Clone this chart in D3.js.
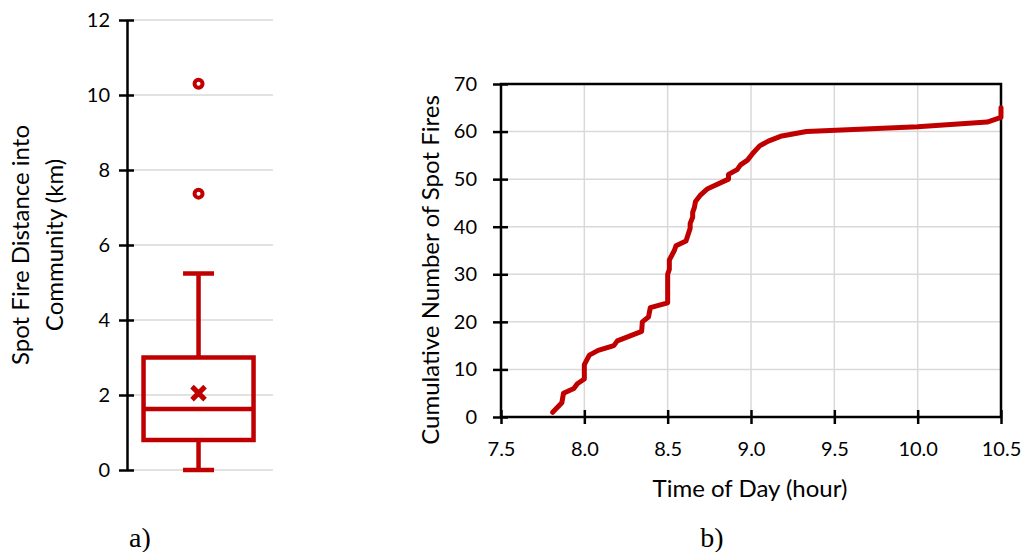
<!DOCTYPE html>
<html>
<head>
<meta charset="utf-8">
<script src="https://cdn.jsdelivr.net/npm/d3@7"></script>
<style>
  body { margin: 0; background: #fff; }
  text { font-family: Lato, "Open Sans", sans-serif; fill: #000; }
  .cap { font-family: "Liberation Serif", "DejaVu Serif", serif; }
</style>
</head>
<body>
<svg id="chart" width="1024" height="552"></svg>
<script>
// ---- data: box plot (a)
const boxLabels = ["Spot Fire Distance into", "Community (km)"];
const boxTicks = [0, 2, 4, 6, 8, 10, 12];
const boxStats = [0, 0.8, 1.63, 3.0, 5.24]; // min, q1, median, q3, max
const boxMean = [2.05];
const boxOutliers = [7.37, 10.3];

// ---- data: cumulative curve (b)
const hours = [7.81, 7.865, 7.875, 7.937, 7.958, 8.0, 8.0, 8.03, 8.083, 8.177, 8.198,
  8.344, 8.348, 8.385, 8.396, 8.5, 8.5, 8.51, 8.51, 8.54, 8.55, 8.61, 8.625, 8.635,
  8.635, 8.65, 8.65, 8.66, 8.667, 8.698, 8.74, 8.865, 8.865, 8.917, 8.937, 8.979,
  9.01, 9.052, 9.104, 9.177, 9.333, 10.0, 10.417, 10.5, 10.5];
const counts = [1, 3, 5, 6, 7, 8, 11, 13, 14, 15, 16, 18, 20, 21, 23, 24, 30, 31, 33,
  35, 36, 37, 38.6, 39.7, 40.7, 42, 43, 44, 45.3, 46.7, 48, 50, 51, 52, 53, 54, 55.4,
  57, 58, 59, 60, 61, 62, 63, 65];
const hourTicks = [7.5, 8.0, 8.5, 9.0, 9.5, 10.0, 10.5];
const countTicks = [0, 10, 20, 30, 40, 50, 60, 70];

const red = "#c00000";
const grid = "#d9d9d9";
const svg = d3.select("#chart");

// ======================================================================
// a) box plot
// ======================================================================
const ya = d3.scaleLinear().domain([0, 12]).range([470, 20]);
const xa = d3.scaleLinear().domain([0, 1]).range([127, 273]);
const cx = xa(0.49);

const ga = svg.append("g");
ga.selectAll("line.grid").data(boxTicks).join("line")
  .attr("x1", xa(0)).attr("x2", xa(1))
  .attr("y1", d => ya(d)).attr("y2", d => ya(d))
  .attr("stroke", grid).attr("stroke-width", 1.5);

const axA = ga.append("g").attr("transform", `translate(${xa(0)},0)`)
  .call(d3.axisLeft(ya).tickValues(boxTicks).tickSize(0).tickPadding(17));
axA.select(".domain").attr("stroke", "#000").attr("stroke-width", 2.5);
axA.selectAll("text").style("font-size", "20px").style("font-family", "Lato, sans-serif");
axA.selectAll(".tick").append("line")
  .attr("x1", -8).attr("x2", 7).attr("stroke", "#000").attr("stroke-width", 2.5);

const [mn, q1, med, q3, mx] = boxStats;
const bw = 110, cw = 31, sw = 4.5;
ga.append("line").attr("x1", cx).attr("x2", cx).attr("y1", ya(q3)).attr("y2", ya(mx))
  .attr("stroke", red).attr("stroke-width", sw);
ga.append("line").attr("x1", cx).attr("x2", cx).attr("y1", ya(mn)).attr("y2", ya(q1))
  .attr("stroke", red).attr("stroke-width", sw);
ga.selectAll("line.cap").data([mn, mx]).join("line")
  .attr("x1", cx - cw / 2).attr("x2", cx + cw / 2)
  .attr("y1", d => ya(d)).attr("y2", d => ya(d))
  .attr("stroke", red).attr("stroke-width", sw);
ga.append("rect").attr("x", cx - bw / 2).attr("width", bw)
  .attr("y", ya(q3)).attr("height", ya(q1) - ya(q3))
  .attr("fill", "none").attr("stroke", red).attr("stroke-width", sw);
ga.append("line").attr("x1", cx - bw / 2).attr("x2", cx + bw / 2)
  .attr("y1", ya(med)).attr("y2", ya(med)).attr("stroke", red).attr("stroke-width", sw);
ga.selectAll("path.mean").data(boxMean).join("path")
  .attr("d", d => `M${cx - 6.5},${ya(d) - 6.5}L${cx + 6.5},${ya(d) + 6.5}M${cx - 6.5},${ya(d) + 6.5}L${cx + 6.5},${ya(d) - 6.5}`)
  .attr("stroke", red).attr("stroke-width", 5);
ga.selectAll("circle.out").data(boxOutliers).join("circle")
  .attr("cx", cx).attr("cy", d => ya(d)).attr("r", 4)
  .attr("fill", "#fff").attr("stroke", red).attr("stroke-width", 4);

const ta = ga.append("text").attr("transform", "translate(0,245) rotate(-90)")
  .attr("text-anchor", "middle").style("font-size", "24px");
ta.append("tspan").attr("x", 0).attr("y", 29).text(boxLabels[0]);
ta.append("tspan").attr("x", 0).attr("y", 63).text(boxLabels[1]);

svg.append("text").attr("class", "cap").attr("x", 140).attr("y", 547)
  .attr("text-anchor", "middle").style("font-size", "28px").text("a)");

// ======================================================================
// b) cumulative spot fires
// ======================================================================
const xb = d3.scaleLinear().domain([7.5, 10.5]).range([501, 1001]);
const yb = d3.scaleLinear().domain([0, 70]).range([417, 84]);
const gb = svg.append("g");

gb.selectAll("line.gx").data(hourTicks).join("line")
  .attr("x1", d => xb(d)).attr("x2", d => xb(d)).attr("y1", yb(0)).attr("y2", yb(70))
  .attr("stroke", grid).attr("stroke-width", 1.5);
gb.selectAll("line.gy").data(countTicks).join("line")
  .attr("x1", xb(7.5)).attr("x2", xb(10.5)).attr("y1", d => yb(d)).attr("y2", d => yb(d))
  .attr("stroke", grid).attr("stroke-width", 1.5);

gb.append("rect").attr("x", xb(7.5)).attr("y", yb(70))
  .attr("width", xb(10.5) - xb(7.5)).attr("height", yb(0) - yb(70))
  .attr("fill", "none").attr("stroke", "#000").attr("stroke-width", 2.5);

const axX = gb.append("g").attr("transform", `translate(0,${yb(0)})`)
  .call(d3.axisBottom(xb).tickValues(hourTicks).tickFormat(d3.format(".1f")).tickSize(0).tickPadding(25));
axX.select(".domain").remove();
axX.selectAll("text").style("font-size", "20px").style("font-family", "Lato, sans-serif");
axX.selectAll(".tick").append("line")
  .attr("y1", -7).attr("y2", 7).attr("stroke", "#000").attr("stroke-width", 2.5);

const axY = gb.append("g").attr("transform", `translate(${xb(7.5)},0)`)
  .call(d3.axisLeft(yb).tickValues(countTicks).tickSize(0).tickPadding(24));
axY.select(".domain").remove();
axY.selectAll("text").style("font-size", "20px").style("font-family", "Lato, sans-serif");
axY.selectAll(".tick").append("line")
  .attr("x1", -8).attr("x2", 7).attr("stroke", "#000").attr("stroke-width", 2.5);

const pts = hours.map((h, i) => [h, counts[i]]);
gb.append("path").datum(pts)
  .attr("d", d3.line().x(d => xb(d[0])).y(d => yb(d[1])))
  .attr("fill", "none").attr("stroke", red).attr("stroke-width", 5)
  .attr("stroke-linejoin", "round").attr("stroke-linecap", "round");

gb.append("text").attr("x", 750).attr("y", 497).attr("text-anchor", "middle")
  .style("font-size", "24px").text("Time of Day (hour)");
gb.append("text").attr("transform", "translate(431,270) rotate(-90)")
  .attr("text-anchor", "middle").attr("dy", "0.35em").style("font-size", "24px")
  .text("Cumulative Number of Spot Fires");

svg.append("text").attr("class", "cap").attr("x", 712).attr("y", 547)
  .attr("text-anchor", "middle").style("font-size", "28px").text("b)");
</script>
</body>
</html>
